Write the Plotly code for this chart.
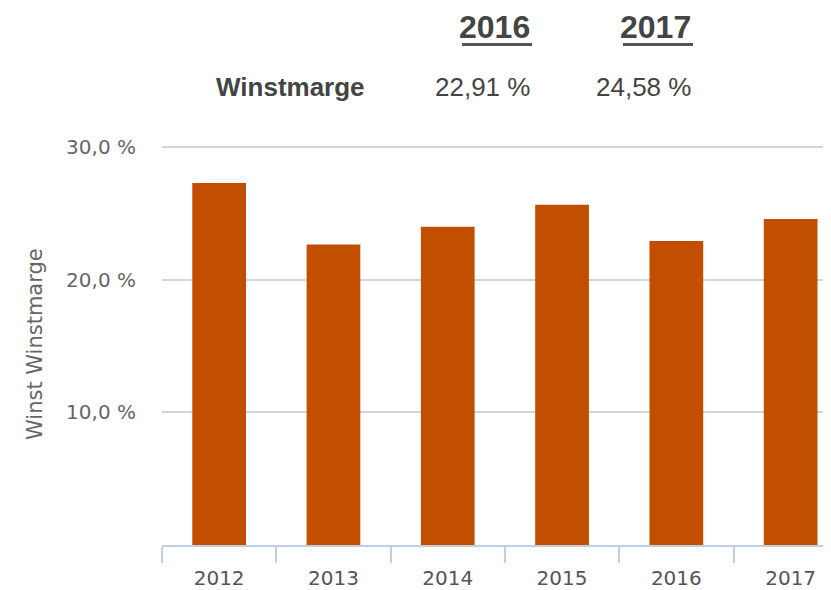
import plotly.graph_objects as go

years = ["2012", "2013", "2014", "2015", "2016", "2017"]
margins = [27.3, 22.65, 24.0, 25.65, 22.91, 24.58]
y_ticks = [10, 20, 30]
y_tick_labels = ["10,0 %", "20,0 %", "30,0 %"]
header_years = ["2016", "2017"]
header_values = ["22,91 %", "24,58 %"]
row_label = "Winstmarge"
y_title = "Winst Winstmarge"

OFF = 8  # default page body margin
W, H = 831 - OFF, 590 - OFF
L, R, T, B = 162 - OFF, 0, 146 - OFF, 43
pw, ph = W - L - R, H - T - B
cat_w = 114.3


def px(x):
    return (x - OFF - L) / pw


def py(y):
    return (H - B - (y - OFF)) / ph


fig = go.Figure(go.Bar(
    x=years, y=margins, marker=dict(color="#c24e00", line=dict(width=0)),
    width=0.47, hoverinfo="skip"))

annotations = []
col_right = [532, 693]
for i, (yr, val) in enumerate(zip(header_years, header_values)):
    annotations.append(dict(text="<b>%s</b>" % yr, x=px(col_right[i]), y=py(26), xref="paper", yref="paper",
                            xanchor="right", yanchor="middle", showarrow=False,
                            font=dict(family="Liberation Sans, Arial", size=32, color="#444444")))
    annotations.append(dict(text=val, x=px(col_right[i]), y=py(87), xref="paper", yref="paper",
                            xanchor="right", yanchor="middle", showarrow=False,
                            font=dict(family="Liberation Sans, Arial", size=26, color="#444444")))
annotations.append(dict(text="<b>%s</b>" % row_label, x=px(214), y=py(87), xref="paper", yref="paper",
                        xanchor="left", yanchor="middle", showarrow=False,
                        font=dict(family="Liberation Sans, Arial", size=26, color="#444444")))
annotations.append(dict(text=y_title, x=px(35), y=py(345), xref="paper", yref="paper",
                        xanchor="center", yanchor="middle", showarrow=False, textangle=-90,
                        font=dict(family="DejaVu Sans", size=21, color="#666666")))

shapes = []
for (x0, x1) in [(462, 532), (623, 693)]:
    shapes.append(dict(type="line", xref="paper", yref="paper", x0=px(x0), x1=px(x1),
                       y0=py(44), y1=py(44), line=dict(color="#555555", width=3)))

fig.update_layout(
    width=W, height=H, margin=dict(l=L, r=R, t=T, b=B),
    plot_bgcolor="white", paper_bgcolor="white", showlegend=False,
    annotations=annotations, shapes=shapes,
    xaxis=dict(type="category", range=[-0.5, pw / cat_w - 0.5],
               showgrid=False, showline=True, linecolor="#c0d0e0", linewidth=1.5,
               ticks="outside", tickson="boundaries", ticklen=16, tickcolor="#c0d0e0", tickwidth=1.5,
               ticklabelstandoff=14,
               tickfont=dict(family="DejaVu Sans", size=20, color="#555555")),
    yaxis=dict(range=[0, 30.08], tickvals=y_ticks, ticktext=y_tick_labels,
               showgrid=True, gridcolor="#d4d4d4", gridwidth=1.5, zeroline=False, showline=False,
               ticks="", ticklabelstandoff=25,
               tickfont=dict(family="DejaVu Sans", size=20, color="#666666")),
    bargap=0.53,
)

fig.write_html("out.html")
